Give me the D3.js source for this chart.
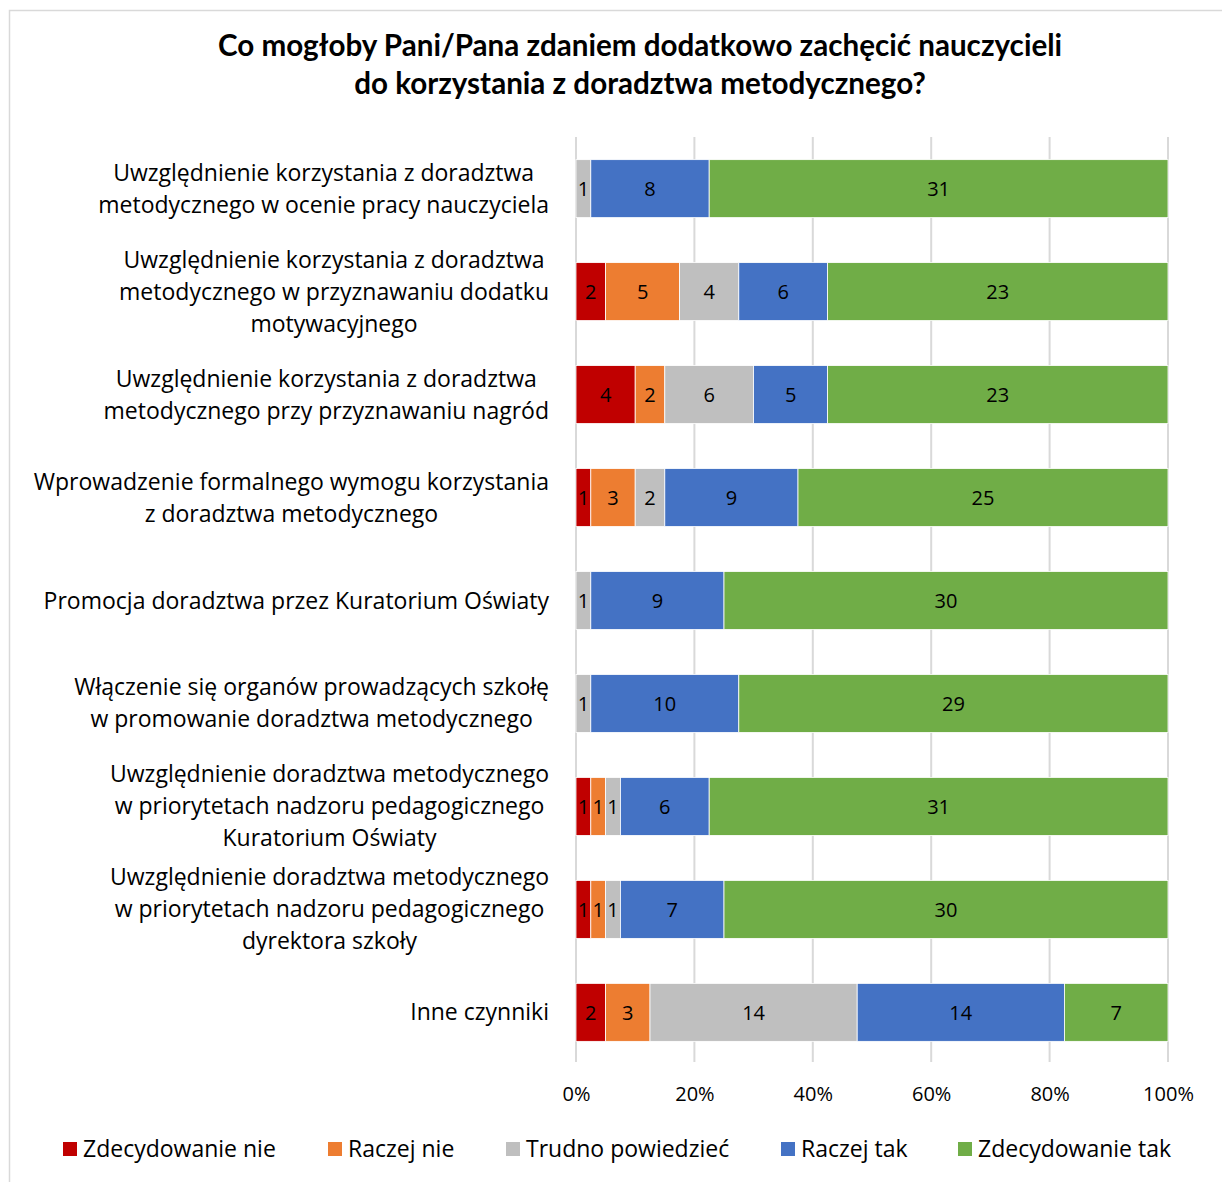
<!DOCTYPE html>
<html><head><meta charset="utf-8">
<script src="https://cdn.jsdelivr.net/npm/d3@7"></script>
<style>body{margin:0;background:#fff}svg{display:block}text{font-family:"Open Sans",Lato,sans-serif;fill:#000}</style>
</head><body><svg id="c" width="1222" height="1182"></svg>
<script>
const categories = [
  ["Uwzględnienie korzystania z doradztwa","metodycznego w ocenie pracy nauczyciela"],
  ["Uwzględnienie korzystania z doradztwa","metodycznego w przyznawaniu dodatku","motywacyjnego"],
  ["Uwzględnienie korzystania z doradztwa","metodycznego przy przyznawaniu nagród"],
  ["Wprowadzenie formalnego wymogu korzystania","z doradztwa metodycznego"],
  ["Promocja doradztwa przez Kuratorium Oświaty"],
  ["Włączenie się organów prowadzących szkołę","w promowanie doradztwa metodycznego"],
  ["Uwzględnienie doradztwa metodycznego","w priorytetach nadzoru pedagogicznego","Kuratorium Oświaty"],
  ["Uwzględnienie doradztwa metodycznego","w priorytetach nadzoru pedagogicznego","dyrektora szkoły"],
  ["Inne czynniki"]
];
const seriesNames = ["Zdecydowanie nie","Raczej nie","Trudno powiedzieć","Raczej tak","Zdecydowanie tak"];
const colors = ["#C00000","#ED7D31","#BFBFBF","#4472C4","#70AD47"];
const zdecydowanieNie = [0,2,4,1,0,0,1,1,2];
const raczejNie       = [0,5,2,3,0,0,1,1,3];
const trudno          = [1,4,6,2,1,1,1,1,14];
const raczejTak       = [8,6,5,9,9,10,6,7,14];
const zdecydowanieTak = [31,23,23,25,30,29,31,30,7];
const tickValues = [0,0.2,0.4,0.6,0.8,1];
const title = ["Co mogłoby Pani/Pana zdaniem dodatkowo zachęcić nauczycieli","do korzystania z doradztwa metodycznego?"];

const series = [zdecydowanieNie,raczejNie,trudno,raczejTak,zdecydowanieTak];
const svg = d3.select("#c");
svg.append("path").attr("d","M9.5,1182 V10.5 H1222").attr("fill","none").attr("stroke","#D9D9D9").attr("stroke-width",1.5);

svg.selectAll(".title").data(title).enter().append("text")
  .attr("x",640).attr("y",(d,i)=>56+i*38).attr("text-anchor","middle")
  .style("font-family","Lato").attr("font-size",29.6).attr("font-weight","bold").text(d=>d);

const x = d3.scaleLinear().domain([0,1]).range([576,1168]);
const idx = d3.range(categories.length);
const y = d3.scaleBand().domain(idx).range([137,1064]).paddingInner(0.437).paddingOuter(0.22);

svg.append("g").selectAll("line").data(tickValues).enter().append("line")
  .attr("x1",d=>x(d)).attr("x2",d=>x(d)).attr("y1",137).attr("y2",1062)
  .attr("stroke","#D9D9D9").attr("stroke-width",2);

const ax = d3.axisBottom(x).tickValues(tickValues).tickFormat(d3.format(".0%")).tickSize(0).tickPadding(0);
const gax = svg.append("g").attr("transform","translate(0,1101)").call(ax);
gax.select(".domain").remove();
gax.selectAll("text").attr("font-size",20).attr("dy",0).style("font-family","Open Sans");

const rows = idx.map(i=>{const o={i}; seriesNames.forEach((s,k)=>o[s]=series[k][i]); return o;});
const totals = idx.map(i=>d3.sum(series,s=>s[i]));
const stack = d3.stack().keys(seriesNames)(rows);
const g = svg.append("g");
stack.forEach((layer,k)=>{
  layer.forEach((seg,i)=>{
    const v = series[k][i];
    if(!v) return;
    const x0 = x(seg[0]/totals[i]), x1 = x(seg[1]/totals[i]);
    g.append("rect").attr("x",x0).attr("y",y(i)).attr("width",x1-x0).attr("height",y.bandwidth())
      .attr("fill",colors[k]).attr("stroke","#fff").attr("stroke-width",0.8);
    g.append("text").attr("x",(x0+x1)/2).attr("y",y(i)+y.bandwidth()/2+7.5)
      .attr("text-anchor","middle").attr("font-size",20).text(v);
  });
});

const lh = 32;
categories.forEach((lines,i)=>{
  const cy = y(i)+y.bandwidth()/2;
  const gl = svg.append("g");
  const ts = lines.map((l,j)=>gl.append("text").attr("font-size",23).attr("text-anchor","middle")
      .attr("y",cy - (lines.length-1)*lh/2 + j*lh + 8).text(l));
  const maxW = d3.max(ts,t=>t.node().getComputedTextLength());
  ts.forEach(t=>t.attr("x",549-maxW/2));
});

const legX = [63,328,506,781,958];
seriesNames.forEach((s,k)=>{
  svg.append("rect").attr("x",legX[k]).attr("y",1142).attr("width",14).attr("height",14).attr("fill",colors[k]);
  svg.append("text").attr("x",legX[k]+20).attr("y",1157).attr("font-size",23).text(s);
});
</script></body></html>
